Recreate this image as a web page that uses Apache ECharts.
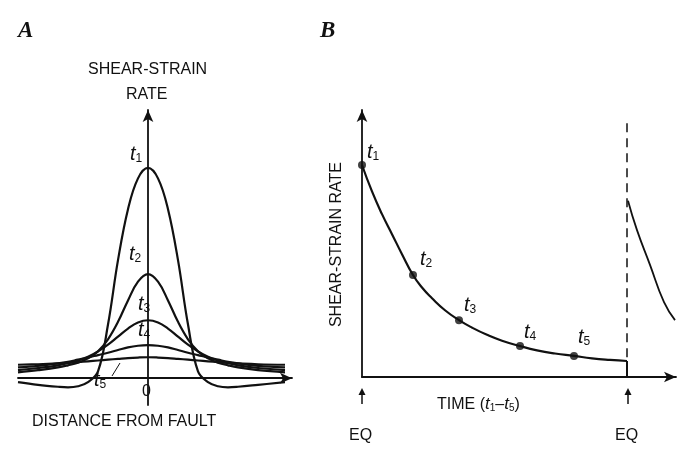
<!DOCTYPE html>
<html><head><meta charset="utf-8">
<script src="https://cdn.jsdelivr.net/npm/echarts@6/dist/echarts.min.js"></script>
<style>html,body{margin:0;background:#fff}#c{width:700px;height:451px}</style>
</head><body><div id="c"></div>
<script>
// panel A: distance from fault vs shear-strain rate at t1..t5
var xsA=[-13,-11,-9,-8,-7,-6,-5,-4,-3,-2,-1,0,1,2,3,4,5,6,7,8,9,11,13.7];
var t1A=[-0.15,-0.25,-0.32,-0.34,-0.3,-0.15,0.25,2.0,4.4,6.3,7.45,7.84,7.45,6.3,4.4,2.0,0.25,-0.15,-0.3,-0.34,-0.32,-0.25,-0.15];
var t2A=[0.22,0.3,0.4,0.48,0.58,0.74,1.0,1.45,2.1,2.9,3.6,3.88,3.6,2.9,2.1,1.45,1.0,0.74,0.58,0.48,0.4,0.3,0.22];
var t3A=[0.3,0.38,0.48,0.56,0.66,0.8,1.0,1.25,1.55,1.85,2.08,2.16,2.08,1.85,1.55,1.25,1.0,0.8,0.66,0.56,0.48,0.38,0.3];
var t4A=[0.4,0.46,0.55,0.61,0.69,0.77,0.86,0.95,1.05,1.15,1.21,1.23,1.21,1.15,1.05,0.95,0.86,0.77,0.69,0.61,0.55,0.46,0.4];
var t5A=[0.5,0.52,0.55,0.57,0.6,0.63,0.66,0.69,0.72,0.75,0.77,0.78,0.77,0.75,0.72,0.69,0.66,0.63,0.6,0.57,0.55,0.52,0.5];
// panel B: shear-strain rate vs time
var timeB=[0,1,2,3,4,5.1,6,7,8.3,9.7,11,12.5,14,15.8,17.5,19.3,21.2,23,24.8,26.5];
var rateB=[7.94,6.95,6.1,5.35,4.6,3.82,3.35,2.95,2.5,2.13,1.85,1.58,1.36,1.16,1.0,0.88,0.79,0.7,0.64,0.6];
var dotIdx=[0,5,9,13,16];
var time2B=[26.6,27.5,28.8,30.2,31.3];
var rate2B=[6.6,5.5,4.2,2.8,2.13];
var eqTime=26.5;

var F='"Liberation Sans",Arial,sans-serif';
function pairs(xs,ys){return xs.map(function(x,i){return [x,ys[i]];});}
var ln={color:'#111',width:2.2};
var axLine={show:true,lineStyle:{color:'#111',width:1.8},symbol:['none','arrow'],symbolSize:[8,12]};
function tlab(n){return {type:'text',style:{text:'{i|t}{s|'+n+'}',rich:{i:{fontFamily:F,fontStyle:'italic',fontSize:20,fill:'#111'},s:{fontFamily:F,fontSize:12,fill:'#111',padding:[10,0,0,0]}}}};}
function at(n,x,y){var t=tlab(n);t.left=x;t.top=y;return t;}
function txt(s,x,y,size){return {type:'text',left:x,top:y,style:{text:s,font:(size||16)+'px '+F,fill:'#111'}};}
function upArrow(x,y){return [
 {type:'line',shape:{x1:x,y1:y,x2:x,y2:y+14},style:{stroke:'#111',lineWidth:1.5}},
 {type:'polygon',shape:{points:[[x-3.5,y+5],[x,y-2],[x+3.5,y+5]]},style:{fill:'#111'}}];}

var chart=echarts.init(document.getElementById('c'));
chart.setOption({
 animation:false,
 grid:[{left:18,width:274,top:110,bottom:46},{left:362,width:314,top:110,bottom:74}],
 xAxis:[
  {gridIndex:0,type:'value',min:-13,max:14.4,axisLine:axLine,axisTick:{show:false},axisLabel:{show:false},splitLine:{show:false}},
  {gridIndex:1,type:'value',min:0,max:31.4,axisLine:axLine,axisTick:{show:false},axisLabel:{show:false},splitLine:{show:false}}],
 yAxis:[
  {gridIndex:0,type:'value',min:-1,max:10,axisLine:axLine,axisTick:{show:false},axisLabel:{show:false},splitLine:{show:false}},
  {gridIndex:1,type:'value',min:0,max:10,axisLine:axLine,axisTick:{show:false},axisLabel:{show:false},splitLine:{show:false}}],
 series:[t1A,t2A,t3A,t4A,t5A].map(function(v){
   return {type:'line',xAxisIndex:0,yAxisIndex:0,smooth:0.4,symbol:'none',lineStyle:ln,data:pairs(xsA,v)};
 }).concat([
  {type:'line',xAxisIndex:1,yAxisIndex:1,smooth:0.5,symbol:'none',lineStyle:ln,data:pairs(timeB,rateB),
   markLine:{silent:true,symbol:'none',label:{show:false},data:[
     [{coord:[eqTime,9.5],lineStyle:{type:[9,6],color:'#111',width:1.5}},{coord:[eqTime,rateB[rateB.length-1]]}],
     [{coord:[eqTime,rateB[rateB.length-1]],lineStyle:{type:'solid',color:'#111',width:2}},{coord:[eqTime,0]}]]}},
  {type:'line',xAxisIndex:1,yAxisIndex:1,smooth:0.5,symbol:'none',lineStyle:{color:'#111',width:1.8},data:pairs(time2B,rate2B)},
  {type:'scatter',xAxisIndex:1,yAxisIndex:1,symbolSize:8,itemStyle:{color:'#111'},z:5,
   data:dotIdx.map(function(i){return [timeB[i],rateB[i]];})}
 ]),
 graphic:[
  {type:'text',left:18,top:20,style:{text:'A',font:'italic bold 23px "Liberation Serif",serif',fill:'#111'}},
  {type:'text',left:320,top:20,style:{text:'B',font:'italic bold 23px "Liberation Serif",serif',fill:'#111'}},
  txt('SHEAR-STRAIN',88,62),txt('RATE',126,87),
  txt('DISTANCE FROM FAULT',32,414),txt('0',142,384),
  at(1,130,144),at(2,129,244),at(3,138,294),at(4,138,320),at(5,94,370),
  {type:'line',shape:{x1:112,y1:376,x2:120,y2:363},style:{stroke:'#111',lineWidth:1}},
  at(1,367,142),at(2,420,249),at(3,464,295),at(4,524,322),at(5,578,327),
  {type:'text',left:329,top:162,rotation:Math.PI/2,style:{text:'SHEAR-STRAIN RATE',font:'16px '+F,fill:'#111'}},
  {type:'text',left:437,top:396,style:{text:'TIME ({i|t}{s|1}–{i|t}{s|5})',font:'16px '+F,fill:'#111',
    rich:{i:{fontFamily:F,fontStyle:'italic',fontSize:17,fill:'#111'},s:{fontFamily:F,fontSize:10,fill:'#111',padding:[8,0,0,0]}}}},
  txt('EQ',349,428),txt('EQ',615,428)
 ].concat(upArrow(362,390),upArrow(628,390))
});
</script></body></html>
